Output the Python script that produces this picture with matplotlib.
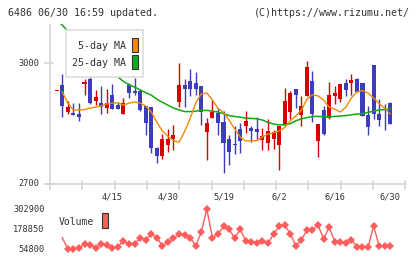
import numpy as np
import matplotlib
matplotlib.use("Agg")
import matplotlib.pyplot as plt
from matplotlib.patches import Rectangle
from matplotlib.lines import Line2D

# ---------------- data ----------------
date_labels = ["4/15", "4/30", "5/19", "6/2", "6/16", "6/30"]
date_index = [10, 20, 30, 40, 50, 60]

open_ = [2931, 2946, 2880, 2877, 2874, 2948, 2960, 2907, 2901, 2890,
         2921, 2896, 2873, 2946, 2932, 2931, 2893, 2891, 2790, 2770,
         2797, 2812, 2903, 2946, 2957, 2951, 2944, 2830, 2863, 2876,
         2854, 2812, 2799, 2837, 2845, 2840, 2837, 2809, 2801, 2811,
         2796, 2847, 2880, 2936, 2872, 2919, 2956, 2807, 2884, 2865,
         2919, 2911, 2951, 2950, 2961, 2950, 2872, 2996, 2873, 2899,
         2901]
high = [2932, 2973, 2907, 2902, 2901, 2962, 2971, 2934, 2944, 2935,
        2948, 2904, 2915, 2950, 2963, 2935, 2894, 2892, 2791, 2824,
        2836, 2846, 3001, 2960, 2987, 2979, 2944, 2863, 2909, 2888,
        2882, 2822, 2845, 2851, 2881, 2845, 2866, 2838, 2861, 2834,
        2843, 2938, 2932, 2936, 2919, 3006, 2981, 2849, 2895, 2954,
        2944, 2949, 2961, 2973, 2964, 2950, 2894, 2996, 2911, 2899,
        2905]
low = [2930, 2867, 2874, 2871, 2857, 2921, 2900, 2897, 2874, 2877,
       2887, 2887, 2873, 2913, 2921, 2882, 2821, 2778, 2751, 2761,
       2780, 2785, 2891, 2891, 2918, 2921, 2847, 2760, 2863, 2822,
       2728, 2747, 2775, 2776, 2826, 2804, 2809, 2784, 2784, 2786,
       2736, 2846, 2861, 2888, 2844, 2919, 2855, 2768, 2822, 2861,
       2898, 2905, 2919, 2921, 2929, 2870, 2822, 2862, 2845, 2833,
       2850]
close = [2931, 2894, 2891, 2871, 2866, 2954, 2902, 2916, 2891, 2901,
         2887, 2887, 2901, 2925, 2927, 2884, 2852, 2790, 2770, 2811,
         2813, 2821, 2946, 2935, 2935, 2935, 2879, 2851, 2879, 2851,
         2803, 2779, 2798, 2807, 2857, 2831, 2830, 2820, 2831, 2830,
         2843, 2906, 2926, 2922, 2894, 2991, 2874, 2849, 2824, 2921,
         2927, 2949, 2934, 2958, 2929, 2870, 2842, 2873, 2860, 2898,
         2850]
ma5 = [np.nan, 2929, 2901, 2884, 2884, 2885, 2889, 2891, 2894, 2899,
       2901, 2902, 2896, 2901, 2904, 2901, 2894, 2879, 2854, 2832,
       2819, 2808, 2804, 2830, 2863, 2901, 2924, 2926, 2909, 2888,
       2878, 2859, 2837, 2817, 2807, 2807, 2808, 2817, 2824, 2827,
       2832, 2840, 2857, 2869, 2883, 2911, 2922, 2919, 2909, 2891,
       2886, 2879, 2891, 2914, 2929, 2932, 2926, 2914, 2900, 2888,
       2874]
ma25 = [3108, 3095, 3080, 3068, 3055, 3043, 3028, 3016, 3003, 2991,
        2978, 2966, 2955, 2947, 2941, 2934, 2927, 2921, 2911, 2903,
        2896, 2889, 2884, 2880, 2880, 2881, 2883, 2883, 2881, 2879,
        2875, 2870, 2868, 2866, 2864, 2863, 2862, 2859, 2853, 2849,
        2847, 2847, 2850, 2857, 2862, 2865, 2868, 2868, 2867, 2867,
        2868, 2869, 2870, 2872, 2874, 2875, 2878, 2881, 2884, 2885,
        2886]
volume = [np.nan, 124900, 54800, 56000, 62900, 84000, 79600, 62900, 84000, 79600,
          62900, 67200, 106300, 84000, 84600, 126100, 108800, 146600, 126100, 74600,
          96400, 121200, 146600, 141600, 126100, 74600, 159000, 302900, 126100, 146600,
          194400, 177600, 121800, 177600, 104400, 100100, 92000, 104400, 90200, 146600,
          195600, 201800, 150900, 74600, 110600, 172600, 172600, 203700, 118100, 189400,
          100100, 98200, 93300, 113100, 67200, 65300, 65300, 197500, 71500, 74600,
          71500]
price_ticks = [3000, 2700]
vol_ticks = [302900, 178850, 54800]

# ---------------- layout helpers ----------------
W, H = 420, 259
def fx(x):
    return x / W
def fy(y):
    return 1 - y / H

FONT = "DejaVu Sans Mono"
TXT = "#333333"
AXC = "#d6d6d6"
RED = "#d90000"
BLUE = "#3d3dbb"
ORANGE = "#f08a00"
GREEN = "#11a811"
VOLC = "#ff5c5c"

fig = plt.figure(figsize=(W / 100, H / 100), dpi=100)
fig.patch.set_facecolor("white")

x0_pix, x1_pix = 50, 405.3
step = 5.56
first = 56.7
xl = ((x0_pix - first) / step, (x1_pix - first) / step)

# price axes
ax = fig.add_axes([fx(x0_pix), fy(184), (x1_pix - x0_pix) / W, (184 - 24) / H])
ax.set_xlim(*xl)
ax.set_ylim(2700, 3097.7)
ax.axis("off")

n = len(close)
idx = np.arange(n)
o = np.array(open_, float)
c = np.array(close, float)
hi = np.array(high, float)
lo = np.array(low, float)
up = c >= o
cols = np.where(up, RED, BLUE)
ax.vlines(idx, lo, hi, colors=cols, linewidth=1.0, zorder=2)
bottoms = np.minimum(o, c)
heights = np.maximum(np.abs(c - o), 2.0)
ax.bar(idx, heights, bottom=bottoms, width=0.72, color=cols, linewidth=0, zorder=3)

ax.plot(idx, ma25, color=GREEN, lw=1.1, zorder=4, clip_on=True)
ax.plot(idx, ma5, color=ORANGE, lw=1.0, zorder=5, clip_on=True)

# volume axes
vpx = 6202.5
vax = fig.add_axes([fx(x0_pix), fy(253), (x1_pix - x0_pix) / W, 48 / H])
vax.set_xlim(*xl)
vax.set_ylim(54800 - 4 * vpx, 302900 + 4 * vpx)
vax.axis("off")
vax.plot(idx, volume, color=VOLC, lw=1.0, marker="D", markersize=4.3,
         markevery=list(range(2, n)), markeredgewidth=0)

# axis lines / ticks (figure coords)
def fline(xs, ys, **kw):
    fig.add_artist(Line2D([fx(v) for v in xs], [fy(v) for v in ys],
                          transform=fig.transFigure, **kw))

fline([50, 50], [25, 189], color=AXC, lw=1.2)
fline([45, 406], [184, 184], color=AXC, lw=1.2)
for k in range(1, 12):
    xp = 50 + k * (x1_pix - 50) / 11
    fline([xp, xp], [181, 189], color=AXC, lw=1.2)

def price_to_pix(p):
    return 184 - (p - 2700) / 300 * (184 - 63.3)

for p in price_ticks:
    yp = price_to_pix(p)
    fline([45, 53], [yp, yp], color=AXC, lw=1.2)
    fig.text(fx(39.5), fy(yp), f"{p}", ha="right", va="center",
             fontsize=6.2, family=FONT, color=TXT)

for v in vol_ticks:
    yp = 249 - (v - 54800) / vpx
    fig.text(fx(44.5), fy(yp), f"{v}", ha="right", va="center",
             fontsize=6.2, family=FONT, color=TXT)

for lab, i in zip(date_labels, date_index):
    fig.text(fx(first + step * i), fy(197.5), lab, ha="center", va="center",
             fontsize=6.2, family=FONT, color=TXT)

# header
fig.text(fx(8), fy(13), "6486 06/30 16:59 updated.", ha="left", va="center",
         fontsize=7.2, family=FONT, color=TXT)
fig.text(fx(409.5), fy(13), "(C)https://www.rizumu.net/", ha="right", va="center",
         fontsize=7.2, family=FONT, color=TXT)

# price legend
fig.add_artist(Rectangle((fx(65.7), fy(77.3)), (143.3 - 65.7) / W, (77.3 - 30) / H,
                         transform=fig.transFigure, facecolor="white",
                         edgecolor="#dddddd", lw=1.2, zorder=10))
fig.text(fx(125.5), fy(46), "5-day MA", ha="right", va="center",
         fontsize=7.2, family=FONT, color=TXT, zorder=11)
fig.text(fx(125.5), fy(62.7), "25-day MA", ha="right", va="center",
         fontsize=7.2, family=FONT, color=TXT, zorder=11)
fig.add_artist(Rectangle((fx(131.7), fy(52)), 5.8 / W, 14.5 / H,
                         transform=fig.transFigure, facecolor=ORANGE,
                         edgecolor="#333333", lw=0.8, zorder=11))
fig.add_artist(Rectangle((fx(131.7), fy(69.2)), 5.8 / W, 14.5 / H,
                         transform=fig.transFigure, facecolor="#11aa22",
                         edgecolor="#333333", lw=0.8, zorder=11))

# volume legend
fig.text(fx(58.5), fy(222), "Volume", ha="left", va="center",
         fontsize=7.0, family=FONT, color=TXT)
fig.add_artist(Rectangle((fx(101.7), fy(228.3)), 5.8 / W, 15 / H,
                         transform=fig.transFigure, facecolor=VOLC,
                         edgecolor="#333333", lw=0.8, zorder=11))

fig.savefig("out.png", dpi=100, facecolor="white")
